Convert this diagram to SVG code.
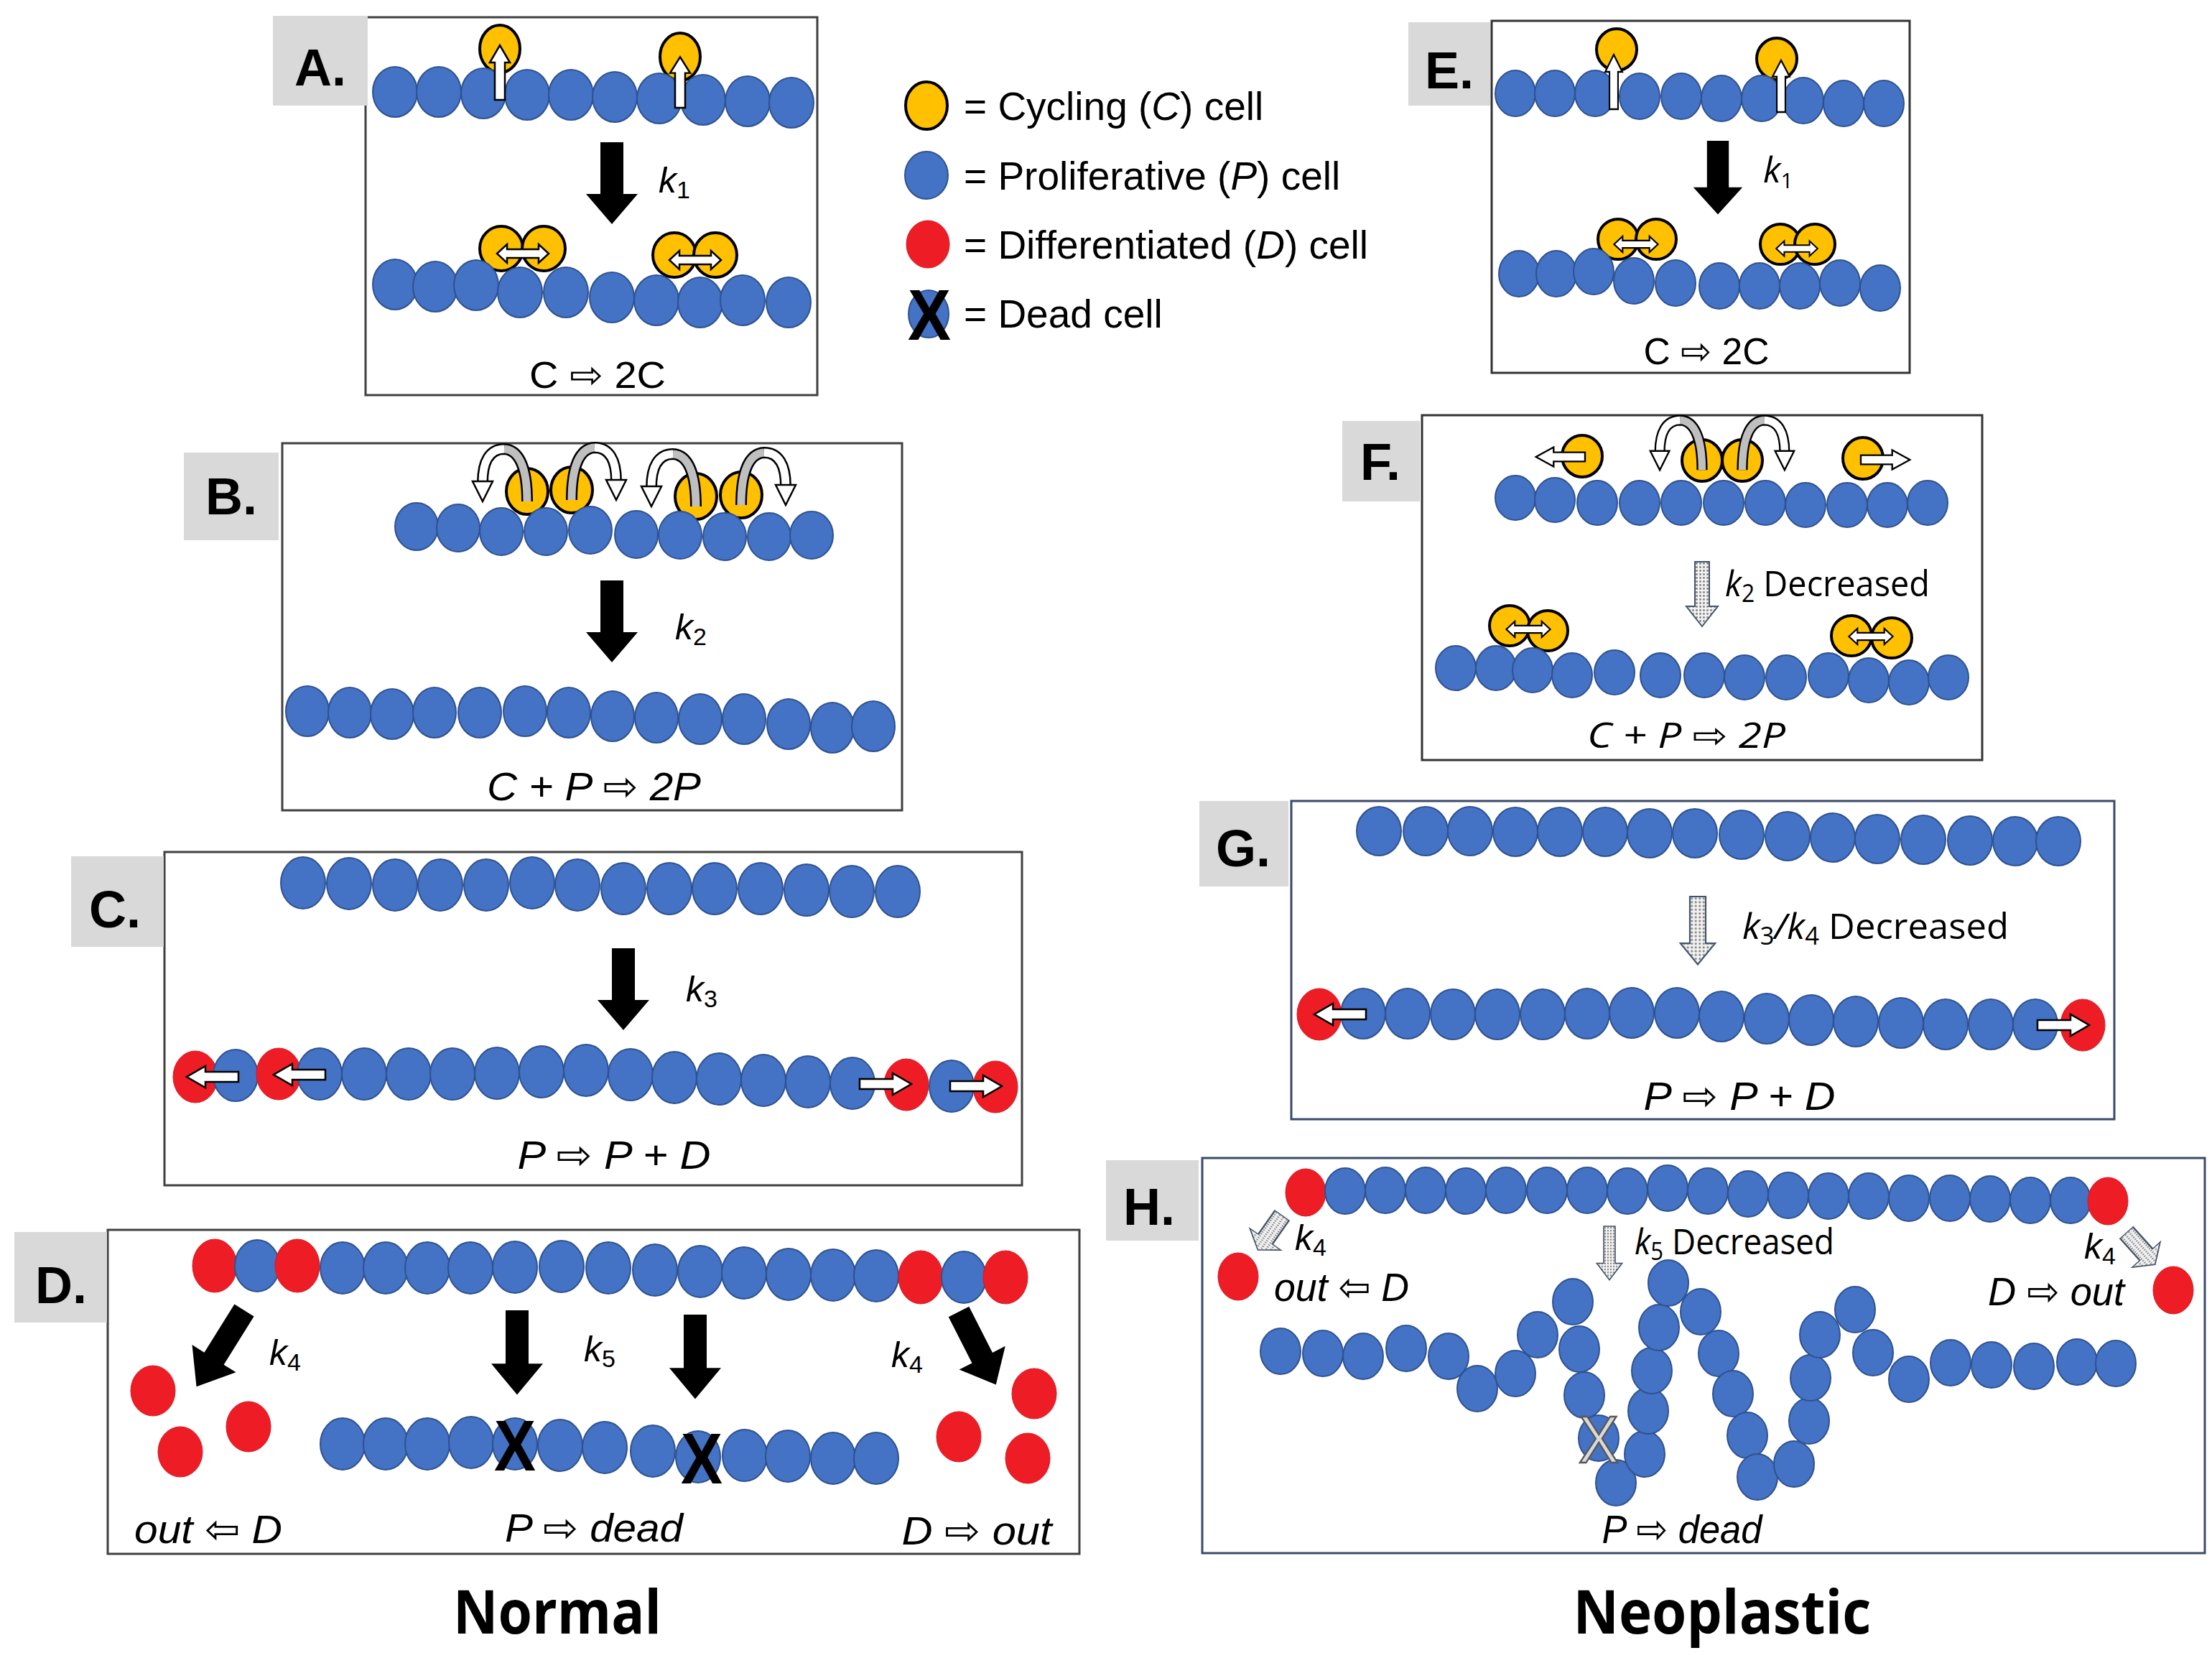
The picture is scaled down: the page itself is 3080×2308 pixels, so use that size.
<svg xmlns="http://www.w3.org/2000/svg" width="3080" height="2308" viewBox="0 0 3080 2308">
<style>
.b{fill:#4472c4;stroke:#2f528f;stroke-width:2}
.y{fill:#ffc000;stroke:#000;stroke-width:4}
.r{fill:#ee1c25;stroke:#d41a22;stroke-width:1}
.box{fill:none;stroke:#404040;stroke-width:3}
.boxn{fill:none;stroke:#3b4a6b;stroke-width:3}
.lg{fill:#d9d9d9}
.lab{font-family:"Liberation Sans",Arial,sans-serif;font-weight:bold;font-size:72px;text-anchor:middle;fill:#000}
.eq{font-family:"Liberation Sans","DejaVu Sans",sans-serif;font-style:italic;font-size:56px;text-anchor:middle;fill:#000}
.eq2{font-family:"Open Sans","DejaVu Sans",sans-serif;font-style:italic;font-size:50px;text-anchor:middle;fill:#000}
.equ{font-family:"Liberation Sans","DejaVu Sans",sans-serif;font-size:52px;text-anchor:middle;fill:#000}
.k{font-family:"Liberation Sans","DejaVu Sans",sans-serif;font-style:italic;font-size:50px;fill:#000}
.k2{font-family:"Open Sans","DejaVu Sans",sans-serif;font-size:50px;fill:#000}
.leg{font-family:"Liberation Sans",Arial,sans-serif;font-size:55px;fill:#000}
.xx{font-family:"Liberation Sans",Arial,sans-serif;font-weight:bold;font-size:100px;text-anchor:middle;fill:#000}
.ttl{font-family:"Open Sans","Liberation Sans",sans-serif;font-weight:bold;font-size:84px;text-anchor:middle;fill:#000}
.wa{fill:#fff;stroke:#000;stroke-width:2.5}
.ka{fill:#000}
.da{fill:url(#dots);stroke:#44546a;stroke-width:2}
</style>
<defs>
<pattern id="dots" width="5" height="5" patternUnits="userSpaceOnUse"><rect width="5" height="5" fill="#f2f2f2"/><circle cx="2.5" cy="2.5" r="1.4" fill="#808080"/></pattern>
<path id="big" class="ka" d="M-16,0 H16 V72 H36 L0,114 L-36,72 H-16 Z"/>
<path id="up" class="wa" d="M-7,0 V-52 H-14 L0,-76 L14,-52 H7 V0 Z"/>
<path id="dbl" class="wa" d="M-36,0 L-22,-13 V-6 H22 V-13 L36,0 L22,13 V6 H-22 V13 Z"/>
<path id="h" class="wa" d="M0,-7 H46 V-15 L72,0 L46,15 V7 H0 Z"/>
<path id="dot" class="da" d="M-10,0 H10 V62 H22 L0,90 L-22,62 H-10 Z"/>
<g id="cv">
<path d="M0 14 C0 -30 -10 -58 -32 -59 C-52 -59 -62 -42 -62 -12" fill="none" stroke="#000" stroke-width="16"/>
<path d="M0 14 C0 -30 -10 -58 -32 -59" fill="none" stroke="#bfbfbf" stroke-width="11"/>
<path d="M-32 -59 C-52 -59 -62 -42 -62 -12" fill="none" stroke="#fff" stroke-width="11"/>
<path d="M-76 -14 L-48 -14 L-62 14 Z" fill="#fff" stroke="#000" stroke-width="2.5"/>
</g>
</defs>
<rect width="3080" height="2308" fill="#fff"/>

<!-- Panel A -->
<g id="panelA">
<rect class="box" x="509" y="24" width="629" height="526"/>
<rect class="lg" x="380" y="22" width="132" height="125"/>
<text class="lab" x="446" y="119">A.</text>
<ellipse class="y" cx="696" cy="68" rx="28" ry="33"/>
<ellipse class="y" cx="947" cy="79" rx="28" ry="33"/>
<ellipse class="b" cx="550" cy="128" rx="31" ry="35"/>
<ellipse class="b" cx="611" cy="128" rx="31" ry="35"/>
<ellipse class="b" cx="673" cy="130" rx="31" ry="35"/>
<ellipse class="b" cx="734" cy="132" rx="31" ry="35"/>
<ellipse class="b" cx="795" cy="132" rx="31" ry="35"/>
<ellipse class="b" cx="856" cy="135" rx="31" ry="35"/>
<ellipse class="b" cx="918" cy="137" rx="31" ry="35"/>
<ellipse class="b" cx="979" cy="139" rx="31" ry="35"/>
<ellipse class="b" cx="1041" cy="141" rx="31" ry="35"/>
<ellipse class="b" cx="1102" cy="143" rx="31" ry="35"/>
<use href="#up" transform="translate(696,139)"/>
<use href="#up" transform="translate(947,150) scale(1,0.93)"/>
<use href="#big" transform="translate(852,198)"/>
<text class="k" x="917" y="268">k<tspan font-size="34" dy="8" font-style="normal">1</tspan></text>
<ellipse class="y" cx="698" cy="346" rx="30" ry="31"/>
<ellipse class="y" cx="757" cy="346" rx="30" ry="31"/>
<ellipse class="y" cx="939" cy="355" rx="30" ry="31"/>
<ellipse class="y" cx="996" cy="355" rx="30" ry="31"/>
<ellipse class="b" cx="550" cy="396" rx="31" ry="35"/>
<ellipse class="b" cx="606" cy="399" rx="31" ry="35"/>
<ellipse class="b" cx="663" cy="397" rx="31" ry="35"/>
<ellipse class="b" cx="724" cy="407" rx="31" ry="35"/>
<ellipse class="b" cx="788" cy="407" rx="31" ry="35"/>
<ellipse class="b" cx="852" cy="414" rx="31" ry="35"/>
<ellipse class="b" cx="914" cy="418" rx="31" ry="35"/>
<ellipse class="b" cx="975" cy="421" rx="31" ry="35"/>
<ellipse class="b" cx="1034" cy="418" rx="31" ry="35"/>
<ellipse class="b" cx="1098" cy="421" rx="31" ry="35"/>
<use href="#dbl" transform="translate(728,353)"/>
<use href="#dbl" transform="translate(968,362)"/>
<text class="equ" x="832" y="540" textLength="190" lengthAdjust="spacingAndGlyphs">C ⇨ 2C</text>
</g>

<!-- Legend -->
<g id="legend">
<ellipse class="y" cx="1290" cy="147" rx="29" ry="33"/>
<ellipse class="b" cx="1290" cy="244" rx="30" ry="33"/>
<ellipse class="r" cx="1292" cy="340" rx="30" ry="33"/>
<ellipse class="b" cx="1293" cy="437" rx="28" ry="33"/>
<text class="xx" x="1294" y="473" textLength="60" lengthAdjust="spacingAndGlyphs">X</text>
<text class="leg" x="1342" y="167">= Cycling (<tspan font-style="italic">C</tspan>) cell</text>
<text class="leg" x="1342" y="264">= Proliferative (<tspan font-style="italic">P</tspan>) cell</text>
<text class="leg" x="1342" y="360">= Differentiated (<tspan font-style="italic">D</tspan>) cell</text>
<text class="leg" x="1342" y="456">= Dead cell</text>
</g>

<!-- Panel B -->
<g id="panelB">
<rect class="box" x="393" y="617" width="863" height="511"/>
<rect class="lg" x="256" y="630" width="132" height="122"/>
<text class="lab" x="322" y="716">B.</text>
<ellipse class="y" cx="734" cy="684" rx="29" ry="32"/>
<ellipse class="y" cx="796" cy="682" rx="29" ry="32"/>
<ellipse class="y" cx="969" cy="691" rx="29" ry="32"/>
<ellipse class="y" cx="1032" cy="689" rx="29" ry="32"/>
<ellipse class="b" cx="580" cy="733" rx="30" ry="33"/>
<ellipse class="b" cx="638" cy="735" rx="30" ry="33"/>
<ellipse class="b" cx="698" cy="740" rx="30" ry="33"/>
<ellipse class="b" cx="760" cy="740" rx="30" ry="33"/>
<ellipse class="b" cx="822" cy="738" rx="30" ry="33"/>
<ellipse class="b" cx="886" cy="744" rx="30" ry="33"/>
<ellipse class="b" cx="947" cy="745" rx="30" ry="33"/>
<ellipse class="b" cx="1009" cy="747" rx="30" ry="33"/>
<ellipse class="b" cx="1071" cy="747" rx="30" ry="33"/>
<ellipse class="b" cx="1130" cy="745" rx="30" ry="33"/>
<use href="#cv" transform="translate(734,684)"/>
<use href="#cv" transform="translate(796,682) scale(-1,1)"/>
<use href="#cv" transform="translate(969,691)"/>
<use href="#cv" transform="translate(1032,689) scale(-1,1)"/>
<use href="#big" transform="translate(852,808)"/>
<text class="k" x="940" y="890">k<tspan font-size="34" dy="8" font-style="normal">2</tspan></text>
<ellipse class="b" cx="428" cy="990" rx="30" ry="35"/>
<ellipse class="b" cx="487" cy="992" rx="30" ry="35"/>
<ellipse class="b" cx="546" cy="994" rx="30" ry="35"/>
<ellipse class="b" cx="605" cy="992" rx="30" ry="35"/>
<ellipse class="b" cx="668" cy="992" rx="30" ry="35"/>
<ellipse class="b" cx="731" cy="990" rx="30" ry="35"/>
<ellipse class="b" cx="792" cy="992" rx="30" ry="35"/>
<ellipse class="b" cx="853" cy="997" rx="30" ry="35"/>
<ellipse class="b" cx="914" cy="999" rx="30" ry="35"/>
<ellipse class="b" cx="975" cy="1001" rx="30" ry="35"/>
<ellipse class="b" cx="1036" cy="1001" rx="30" ry="35"/>
<ellipse class="b" cx="1098" cy="1008" rx="30" ry="35"/>
<ellipse class="b" cx="1159" cy="1013" rx="30" ry="35"/>
<ellipse class="b" cx="1216" cy="1011" rx="30" ry="35"/>
<text class="eq" x="827" y="1114" textLength="298" lengthAdjust="spacingAndGlyphs">C + P ⇨ 2P</text>
</g>

<!-- Panel C -->
<g id="panelC">
<rect class="box" x="229" y="1186" width="1194" height="464"/>
<rect class="lg" x="99" y="1192" width="129" height="126"/>
<text class="lab" x="160" y="1291">C.</text>
<ellipse class="b" cx="422" cy="1229" rx="31" ry="36"/>
<ellipse class="b" cx="486" cy="1230" rx="31" ry="36"/>
<ellipse class="b" cx="550" cy="1232" rx="31" ry="36"/>
<ellipse class="b" cx="613" cy="1232" rx="31" ry="36"/>
<ellipse class="b" cx="677" cy="1232" rx="31" ry="36"/>
<ellipse class="b" cx="741" cy="1229" rx="31" ry="36"/>
<ellipse class="b" cx="804" cy="1232" rx="31" ry="36"/>
<ellipse class="b" cx="868" cy="1237" rx="31" ry="36"/>
<ellipse class="b" cx="932" cy="1237" rx="31" ry="36"/>
<ellipse class="b" cx="995" cy="1237" rx="31" ry="36"/>
<ellipse class="b" cx="1059" cy="1237" rx="31" ry="36"/>
<ellipse class="b" cx="1123" cy="1239" rx="31" ry="36"/>
<ellipse class="b" cx="1186" cy="1241" rx="31" ry="36"/>
<ellipse class="b" cx="1250" cy="1241" rx="31" ry="36"/>
<use href="#big" transform="translate(868,1320)"/>
<text class="k" x="955" y="1394">k<tspan font-size="34" dy="8" font-style="normal">3</tspan></text>
<ellipse class="r" cx="272" cy="1499" rx="31" ry="36"/>
<ellipse class="b" cx="328" cy="1497" rx="31" ry="36"/>
<ellipse class="r" cx="388" cy="1495" rx="31" ry="36"/>
<ellipse class="b" cx="445" cy="1495" rx="31" ry="36"/>
<ellipse class="b" cx="507" cy="1495" rx="31" ry="36"/>
<ellipse class="b" cx="569" cy="1495" rx="31" ry="36"/>
<ellipse class="b" cx="630" cy="1495" rx="31" ry="36"/>
<ellipse class="b" cx="692" cy="1494" rx="31" ry="36"/>
<ellipse class="b" cx="754" cy="1492" rx="31" ry="36"/>
<ellipse class="b" cx="816" cy="1490" rx="31" ry="36"/>
<ellipse class="b" cx="878" cy="1496" rx="31" ry="36"/>
<ellipse class="b" cx="939" cy="1500" rx="31" ry="36"/>
<ellipse class="b" cx="1001" cy="1502" rx="31" ry="36"/>
<ellipse class="b" cx="1063" cy="1504" rx="31" ry="36"/>
<ellipse class="b" cx="1125" cy="1506" rx="31" ry="36"/>
<ellipse class="b" cx="1187" cy="1508" rx="31" ry="36"/>
<ellipse class="r" cx="1262" cy="1510" rx="31" ry="36"/>
<ellipse class="b" cx="1325" cy="1512" rx="31" ry="36"/>
<ellipse class="r" cx="1386" cy="1513" rx="31" ry="36"/>
<use href="#h" transform="translate(332,1499) scale(-1,1)"/>
<use href="#h" transform="translate(453,1496) scale(-1,1)"/>
<use href="#h" transform="translate(1197,1509)"/>
<use href="#h" transform="translate(1323,1512)"/>
<text class="eq" x="855" y="1627" textLength="269" lengthAdjust="spacingAndGlyphs">P ⇨ P + D</text>
</g>

<!-- Panel D -->
<g id="panelD">
<rect class="box" x="150" y="1712" width="1353" height="451"/>
<rect class="lg" x="20" y="1715" width="129" height="126"/>
<text class="lab" x="85" y="1814">D.</text>
<ellipse class="r" cx="299" cy="1762" rx="31" ry="37"/>
<ellipse class="b" cx="358" cy="1762" rx="31" ry="36"/>
<ellipse class="r" cx="414" cy="1762" rx="31" ry="37"/>
<ellipse class="b" cx="477" cy="1765" rx="31" ry="36"/>
<ellipse class="b" cx="537" cy="1765" rx="31" ry="36"/>
<ellipse class="b" cx="595" cy="1765" rx="31" ry="36"/>
<ellipse class="b" cx="655" cy="1765" rx="31" ry="36"/>
<ellipse class="b" cx="717" cy="1764" rx="31" ry="36"/>
<ellipse class="b" cx="782" cy="1763" rx="31" ry="36"/>
<ellipse class="b" cx="847" cy="1765" rx="31" ry="36"/>
<ellipse class="b" cx="912" cy="1768" rx="31" ry="36"/>
<ellipse class="b" cx="975" cy="1770" rx="31" ry="36"/>
<ellipse class="b" cx="1036" cy="1772" rx="31" ry="36"/>
<ellipse class="b" cx="1098" cy="1774" rx="31" ry="36"/>
<ellipse class="b" cx="1160" cy="1775" rx="31" ry="36"/>
<ellipse class="b" cx="1220" cy="1776" rx="31" ry="36"/>
<ellipse class="r" cx="1282" cy="1778" rx="31" ry="37"/>
<ellipse class="b" cx="1342" cy="1778" rx="31" ry="36"/>
<ellipse class="r" cx="1400" cy="1778" rx="31" ry="37"/>
<use href="#big" transform="translate(340,1824) rotate(32) scale(1,1.1)"/>
<use href="#big" transform="translate(720,1824) scale(1,1.03)"/>
<use href="#big" transform="translate(968,1830) scale(1,1.03)"/>
<use href="#big" transform="translate(1335,1826) rotate(-27)"/>
<text class="k" x="375" y="1900">k<tspan font-size="34" dy="8" font-style="normal">4</tspan></text>
<text class="k" x="813" y="1895">k<tspan font-size="34" dy="8" font-style="normal">5</tspan></text>
<text class="k" x="1241" y="1903">k<tspan font-size="34" dy="8" font-style="normal">4</tspan></text>
<ellipse class="r" cx="213" cy="1936" rx="31" ry="35"/>
<ellipse class="r" cx="346" cy="1986" rx="31" ry="35"/>
<ellipse class="r" cx="251" cy="2021" rx="31" ry="35"/>
<ellipse class="r" cx="1440" cy="1940" rx="31" ry="35"/>
<ellipse class="r" cx="1335" cy="2000" rx="31" ry="35"/>
<ellipse class="r" cx="1431" cy="2030" rx="31" ry="35"/>
<ellipse class="b" cx="477" cy="2010" rx="31" ry="36"/>
<ellipse class="b" cx="537" cy="2010" rx="31" ry="36"/>
<ellipse class="b" cx="595" cy="2010" rx="31" ry="36"/>
<ellipse class="b" cx="656" cy="2008" rx="31" ry="36"/>
<ellipse class="b" cx="717" cy="2010" rx="31" ry="36"/>
<ellipse class="b" cx="780" cy="2012" rx="31" ry="36"/>
<ellipse class="b" cx="842" cy="2015" rx="31" ry="36"/>
<ellipse class="b" cx="909" cy="2020" rx="31" ry="36"/>
<ellipse class="b" cx="972" cy="2028" rx="31" ry="36"/>
<ellipse class="b" cx="1037" cy="2026" rx="31" ry="36"/>
<ellipse class="b" cx="1097" cy="2027" rx="31" ry="36"/>
<ellipse class="b" cx="1160" cy="2030" rx="31" ry="36"/>
<ellipse class="b" cx="1220" cy="2030" rx="31" ry="36"/>
<text class="xx" x="717" y="2047" textLength="58" lengthAdjust="spacingAndGlyphs">X</text>
<text class="xx" x="977" y="2065" textLength="58" lengthAdjust="spacingAndGlyphs">X</text>
<text class="eq" x="290" y="2148" textLength="206" lengthAdjust="spacingAndGlyphs">out ⇦ D</text>
<text class="eq" x="827" y="2146" textLength="248" lengthAdjust="spacingAndGlyphs">P ⇨ dead</text>
<text class="eq" x="1360" y="2150" textLength="209" lengthAdjust="spacingAndGlyphs">D ⇨ out</text>
</g>

<!-- Panel E -->
<g id="panelE">
<rect class="box" x="2077" y="29" width="582" height="490" style="stroke:#333"/>
<rect class="lg" x="1961" y="31" width="114" height="116"/>
<text class="lab" x="2018" y="123">E.</text>
<ellipse class="y" cx="2251" cy="69" rx="28" ry="29"/>
<ellipse class="y" cx="2474" cy="82" rx="28" ry="29"/>
<ellipse class="b" cx="2110" cy="130" rx="28" ry="32"/>
<ellipse class="b" cx="2165" cy="130" rx="28" ry="32"/>
<ellipse class="b" cx="2221" cy="130" rx="28" ry="32"/>
<ellipse class="b" cx="2283" cy="134" rx="28" ry="32"/>
<ellipse class="b" cx="2341" cy="134" rx="28" ry="32"/>
<ellipse class="b" cx="2397" cy="137" rx="28" ry="32"/>
<ellipse class="b" cx="2453" cy="137" rx="28" ry="32"/>
<ellipse class="b" cx="2511" cy="140" rx="28" ry="32"/>
<ellipse class="b" cx="2567" cy="144" rx="28" ry="32"/>
<ellipse class="b" cx="2623" cy="144" rx="28" ry="32"/>
<use href="#up" transform="translate(2247,152) scale(0.85,1)"/>
<use href="#up" transform="translate(2480,156) scale(0.85,0.95)"/>
<use href="#big" transform="translate(2392,196) scale(0.95,0.9)"/>
<text class="k2" x="2455" y="254" font-style="italic" font-size="44">k<tspan font-size="30" dy="8" font-style="normal">1</tspan></text>
<ellipse class="y" cx="2253" cy="333" rx="28" ry="28"/>
<ellipse class="y" cx="2306" cy="333" rx="28" ry="28"/>
<ellipse class="y" cx="2479" cy="340" rx="28" ry="28"/>
<ellipse class="y" cx="2527" cy="340" rx="28" ry="28"/>
<ellipse class="b" cx="2115" cy="381" rx="28" ry="32"/>
<ellipse class="b" cx="2167" cy="381" rx="28" ry="32"/>
<ellipse class="b" cx="2219" cy="378" rx="28" ry="32"/>
<ellipse class="b" cx="2275" cy="391" rx="28" ry="32"/>
<ellipse class="b" cx="2333" cy="394" rx="28" ry="32"/>
<ellipse class="b" cx="2394" cy="398" rx="28" ry="32"/>
<ellipse class="b" cx="2450" cy="398" rx="28" ry="32"/>
<ellipse class="b" cx="2506" cy="398" rx="28" ry="32"/>
<ellipse class="b" cx="2562" cy="394" rx="28" ry="32"/>
<ellipse class="b" cx="2618" cy="401" rx="28" ry="32"/>
<use href="#dbl" transform="translate(2278,340) scale(0.85)"/>
<use href="#dbl" transform="translate(2502,346) scale(0.8)"/>
<text class="equ" x="2376" y="507" font-family="Open Sans, DejaVu Sans, sans-serif" font-size="48" textLength="175" lengthAdjust="spacingAndGlyphs">C ⇨ 2C</text>
</g>

<!-- Panel F -->
<g id="panelF">
<rect class="box" x="1980" y="578" width="780" height="480" style="stroke:#333"/>
<rect class="lg" x="1869" y="586" width="108" height="112"/>
<text class="lab" x="1922" y="668">F.</text>
<ellipse class="y" cx="2203" cy="635" rx="28" ry="29"/>
<ellipse class="y" cx="2370" cy="641" rx="28" ry="29"/>
<ellipse class="y" cx="2426" cy="641" rx="28" ry="29"/>
<ellipse class="y" cx="2594" cy="638" rx="28" ry="29"/>
<ellipse class="b" cx="2110" cy="693" rx="28" ry="31"/>
<ellipse class="b" cx="2165" cy="696" rx="28" ry="31"/>
<ellipse class="b" cx="2224" cy="700" rx="28" ry="31"/>
<ellipse class="b" cx="2283" cy="700" rx="28" ry="31"/>
<ellipse class="b" cx="2341" cy="700" rx="28" ry="31"/>
<ellipse class="b" cx="2400" cy="700" rx="28" ry="31"/>
<ellipse class="b" cx="2458" cy="700" rx="28" ry="31"/>
<ellipse class="b" cx="2514" cy="703" rx="28" ry="31"/>
<ellipse class="b" cx="2572" cy="703" rx="28" ry="31"/>
<ellipse class="b" cx="2628" cy="703" rx="28" ry="31"/>
<ellipse class="b" cx="2684" cy="700" rx="28" ry="31"/>
<use href="#h" transform="translate(2207,636) scale(-0.95,0.9)"/>
<use href="#h" transform="translate(2591,640) scale(0.95,0.9)"/>
<use href="#cv" transform="translate(2370,641) scale(0.95)"/>
<use href="#cv" transform="translate(2426,641) scale(-0.95,0.95)"/>
<use href="#dot" transform="translate(2370,782)"/>
<text class="k2" x="2402" y="830" textLength="285" lengthAdjust="spacingAndGlyphs"><tspan font-style="italic">k</tspan><tspan font-size="34" dy="8">2</tspan><tspan dy="-8"> Decreased</tspan></text>
<ellipse class="y" cx="2102" cy="871" rx="28" ry="28"/>
<ellipse class="y" cx="2155" cy="878" rx="28" ry="28"/>
<ellipse class="y" cx="2578" cy="885" rx="28" ry="28"/>
<ellipse class="y" cx="2634" cy="888" rx="28" ry="28"/>
<ellipse class="b" cx="2027" cy="930" rx="28" ry="31"/>
<ellipse class="b" cx="2083" cy="930" rx="28" ry="31"/>
<ellipse class="b" cx="2134" cy="933" rx="28" ry="31"/>
<ellipse class="b" cx="2189" cy="940" rx="28" ry="31"/>
<ellipse class="b" cx="2248" cy="936" rx="28" ry="31"/>
<ellipse class="b" cx="2312" cy="940" rx="28" ry="31"/>
<ellipse class="b" cx="2373" cy="940" rx="28" ry="31"/>
<ellipse class="b" cx="2429" cy="943" rx="28" ry="31"/>
<ellipse class="b" cx="2487" cy="943" rx="28" ry="31"/>
<ellipse class="b" cx="2546" cy="940" rx="28" ry="31"/>
<ellipse class="b" cx="2602" cy="947" rx="28" ry="31"/>
<ellipse class="b" cx="2658" cy="950" rx="28" ry="31"/>
<ellipse class="b" cx="2713" cy="943" rx="28" ry="31"/>
<use href="#dbl" transform="translate(2128,876) scale(0.85)"/>
<use href="#dbl" transform="translate(2605,886) scale(0.85)"/>
<text class="eq2" x="2348" y="1041" textLength="276" lengthAdjust="spacingAndGlyphs">C + P ⇨ 2P</text>
</g>

<!-- Panel G -->
<g id="panelG">
<rect class="boxn" x="1798" y="1115" width="1146" height="443"/>
<rect class="lg" x="1670" y="1115" width="124" height="119"/>
<text class="lab" x="1731" y="1206">G.</text>
<ellipse class="b" cx="1920" cy="1157" rx="31" ry="34"/>
<ellipse class="b" cx="1985" cy="1157" rx="31" ry="34"/>
<ellipse class="b" cx="2047" cy="1157" rx="31" ry="34"/>
<ellipse class="b" cx="2110" cy="1158" rx="31" ry="34"/>
<ellipse class="b" cx="2172" cy="1158" rx="31" ry="34"/>
<ellipse class="b" cx="2235" cy="1158" rx="31" ry="34"/>
<ellipse class="b" cx="2297" cy="1160" rx="31" ry="34"/>
<ellipse class="b" cx="2360" cy="1160" rx="31" ry="34"/>
<ellipse class="b" cx="2425" cy="1162" rx="31" ry="34"/>
<ellipse class="b" cx="2489" cy="1164" rx="31" ry="34"/>
<ellipse class="b" cx="2552" cy="1166" rx="31" ry="34"/>
<ellipse class="b" cx="2614" cy="1168" rx="31" ry="34"/>
<ellipse class="b" cx="2678" cy="1169" rx="31" ry="34"/>
<ellipse class="b" cx="2743" cy="1170" rx="31" ry="34"/>
<ellipse class="b" cx="2806" cy="1171" rx="31" ry="34"/>
<ellipse class="b" cx="2866" cy="1171" rx="31" ry="34"/>
<use href="#dot" transform="translate(2364,1248) scale(1.1,1.05)"/>
<text class="k2" x="2426" y="1307" textLength="371" lengthAdjust="spacingAndGlyphs"><tspan font-style="italic">k</tspan><tspan font-size="34" dy="8">3</tspan><tspan dy="-8" font-style="italic">/k</tspan><tspan font-size="34" dy="8">4</tspan><tspan dy="-8"> Decreased</tspan></text>
<ellipse class="r" cx="1837" cy="1412" rx="31" ry="36"/>
<ellipse class="b" cx="1898" cy="1411" rx="31" ry="35"/>
<ellipse class="b" cx="1960" cy="1411" rx="31" ry="35"/>
<ellipse class="b" cx="2023" cy="1412" rx="31" ry="35"/>
<ellipse class="b" cx="2085" cy="1412" rx="31" ry="35"/>
<ellipse class="b" cx="2148" cy="1412" rx="31" ry="35"/>
<ellipse class="b" cx="2210" cy="1411" rx="31" ry="35"/>
<ellipse class="b" cx="2272" cy="1410" rx="31" ry="35"/>
<ellipse class="b" cx="2335" cy="1410" rx="31" ry="35"/>
<ellipse class="b" cx="2397" cy="1415" rx="31" ry="35"/>
<ellipse class="b" cx="2460" cy="1418" rx="31" ry="35"/>
<ellipse class="b" cx="2522" cy="1420" rx="31" ry="35"/>
<ellipse class="b" cx="2584" cy="1422" rx="31" ry="35"/>
<ellipse class="b" cx="2647" cy="1424" rx="31" ry="35"/>
<ellipse class="b" cx="2709" cy="1426" rx="31" ry="35"/>
<ellipse class="b" cx="2772" cy="1426" rx="31" ry="35"/>
<ellipse class="b" cx="2834" cy="1426" rx="31" ry="35"/>
<ellipse class="r" cx="2900" cy="1427" rx="31" ry="36"/>
<use href="#h" transform="translate(1902,1412) scale(-1,1)"/>
<use href="#h" transform="translate(2837,1427)"/>
<text class="eq" x="2422" y="1545" textLength="267" lengthAdjust="spacingAndGlyphs">P ⇨ P + D</text>
</g>

<!-- Panel H -->
<g id="panelH">
<rect class="boxn" x="1674" y="1612" width="1396" height="550"/>
<rect class="lg" x="1540" y="1615" width="129" height="112"/>
<text class="lab" x="1600" y="1705">H.</text>
<ellipse class="r" cx="1818" cy="1660" rx="28" ry="33"/>
<ellipse class="b" cx="1873" cy="1658" rx="28" ry="32"/>
<ellipse class="b" cx="1929" cy="1657" rx="28" ry="32"/>
<ellipse class="b" cx="1985" cy="1657" rx="28" ry="32"/>
<ellipse class="b" cx="2041" cy="1658" rx="28" ry="32"/>
<ellipse class="b" cx="2097" cy="1657" rx="28" ry="32"/>
<ellipse class="b" cx="2154" cy="1657" rx="28" ry="32"/>
<ellipse class="b" cx="2210" cy="1657" rx="28" ry="32"/>
<ellipse class="b" cx="2266" cy="1658" rx="28" ry="32"/>
<ellipse class="b" cx="2322" cy="1654" rx="28" ry="32"/>
<ellipse class="b" cx="2378" cy="1658" rx="28" ry="32"/>
<ellipse class="b" cx="2434" cy="1662" rx="28" ry="32"/>
<ellipse class="b" cx="2490" cy="1664" rx="28" ry="32"/>
<ellipse class="b" cx="2546" cy="1665" rx="28" ry="32"/>
<ellipse class="b" cx="2602" cy="1665" rx="28" ry="32"/>
<ellipse class="b" cx="2658" cy="1668" rx="28" ry="32"/>
<ellipse class="b" cx="2715" cy="1668" rx="28" ry="32"/>
<ellipse class="b" cx="2771" cy="1669" rx="28" ry="32"/>
<ellipse class="b" cx="2827" cy="1671" rx="28" ry="32"/>
<ellipse class="b" cx="2883" cy="1671" rx="28" ry="32"/>
<ellipse class="r" cx="2935" cy="1672" rx="28" ry="33"/>
<use href="#dot" transform="translate(1785,1692) rotate(35) scale(1.2,0.65)"/>
<use href="#dot" transform="translate(2961,1716) rotate(-42) scale(1.2,0.66)"/>
<use href="#dot" transform="translate(2241,1707) scale(0.8,0.83)"/>
<text class="k" x="1803" y="1740">k<tspan font-size="34" dy="8" font-style="normal">4</tspan></text>
<text class="k" x="2902" y="1752">k<tspan font-size="34" dy="8" font-style="normal">4</tspan></text>
<text class="k2" x="2276" y="1746" textLength="278" lengthAdjust="spacingAndGlyphs"><tspan font-style="italic">k</tspan><tspan font-size="34" dy="8">5</tspan><tspan dy="-8"> Decreased</tspan></text>
<ellipse class="r" cx="1724" cy="1777" rx="28" ry="33"/>
<ellipse class="r" cx="3026" cy="1796" rx="28" ry="33"/>
<text class="eq" x="1868" y="1811" textLength="188" lengthAdjust="spacingAndGlyphs">out ⇦ D</text>
<text class="eq" x="2863" y="1817" textLength="190" lengthAdjust="spacingAndGlyphs">D ⇨ out</text>
<ellipse class="b" cx="1783" cy="1881" rx="28" ry="32"/>
<ellipse class="b" cx="1842" cy="1884" rx="28" ry="32"/>
<ellipse class="b" cx="1898" cy="1888" rx="28" ry="32"/>
<ellipse class="b" cx="1958" cy="1877" rx="28" ry="32"/>
<ellipse class="b" cx="2017" cy="1888" rx="28" ry="32"/>
<ellipse class="b" cx="2057" cy="1933" rx="28" ry="32"/>
<ellipse class="b" cx="2110" cy="1912" rx="28" ry="32"/>
<ellipse class="b" cx="2141" cy="1858" rx="28" ry="32"/>
<ellipse class="b" cx="2190" cy="1812" rx="28" ry="32"/>
<ellipse class="b" cx="2199" cy="1878" rx="28" ry="32"/>
<ellipse class="b" cx="2206" cy="1942" rx="28" ry="32"/>
<ellipse class="b" cx="2226" cy="2002" rx="28" ry="32"/>
<ellipse class="b" cx="2250" cy="2064" rx="28" ry="32"/>
<ellipse class="b" cx="2290" cy="2024" rx="28" ry="32"/>
<ellipse class="b" cx="2295" cy="1964" rx="28" ry="32"/>
<ellipse class="b" cx="2300" cy="1908" rx="28" ry="32"/>
<ellipse class="b" cx="2310" cy="1848" rx="28" ry="32"/>
<ellipse class="b" cx="2323" cy="1786" rx="28" ry="32"/>
<ellipse class="b" cx="2368" cy="1826" rx="28" ry="32"/>
<ellipse class="b" cx="2393" cy="1884" rx="28" ry="32"/>
<ellipse class="b" cx="2413" cy="1940" rx="28" ry="32"/>
<ellipse class="b" cx="2433" cy="1998" rx="28" ry="32"/>
<ellipse class="b" cx="2447" cy="2056" rx="28" ry="32"/>
<ellipse class="b" cx="2498" cy="2038" rx="28" ry="32"/>
<ellipse class="b" cx="2519" cy="1978" rx="28" ry="32"/>
<ellipse class="b" cx="2521" cy="1918" rx="28" ry="32"/>
<ellipse class="b" cx="2534" cy="1858" rx="28" ry="32"/>
<ellipse class="b" cx="2583" cy="1823" rx="28" ry="32"/>
<ellipse class="b" cx="2608" cy="1883" rx="28" ry="32"/>
<ellipse class="b" cx="2658" cy="1920" rx="28" ry="32"/>
<ellipse class="b" cx="2716" cy="1897" rx="28" ry="32"/>
<ellipse class="b" cx="2773" cy="1900" rx="28" ry="32"/>
<ellipse class="b" cx="2832" cy="1902" rx="28" ry="32"/>
<ellipse class="b" cx="2892" cy="1896" rx="28" ry="32"/>
<ellipse class="b" cx="2946" cy="1898" rx="28" ry="32"/>
<text x="2226" y="2036" font-family="Liberation Sans, Arial, sans-serif" font-size="92" text-anchor="middle" fill="#d9d9d9" stroke="#595959" stroke-width="2.5" textLength="56" lengthAdjust="spacingAndGlyphs">X</text>
<text class="eq" x="2342" y="2148" textLength="223" lengthAdjust="spacingAndGlyphs">P ⇨ dead</text>
</g>

<!-- Column titles -->
<g id="titles">
<text class="ttl" x="776" y="2274" textLength="290" lengthAdjust="spacingAndGlyphs">Normal</text>
<text class="ttl" x="2398" y="2274" textLength="415" lengthAdjust="spacingAndGlyphs">Neoplastic</text>
</g>
</svg>
